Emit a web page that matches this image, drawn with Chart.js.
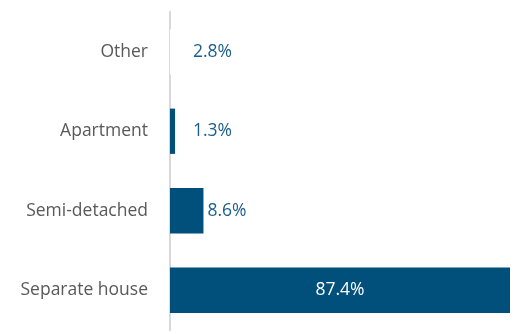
<!DOCTYPE html>
<html>
<head>
<meta charset="utf-8">
<script src="https://cdn.jsdelivr.net/npm/chart.js@4"></script>
<style>
  html, body { margin: 0; padding: 0; background: #fff; overflow: hidden; }
</style>
</head>
<body>
<canvas id="barChart" width="518" height="334"></canvas>
<script>
var categories = ['Other', 'Apartment', 'Semi-detached', 'Separate house'];
var shares = [2.8, 1.3, 8.6, 87.4];
var barColors = ['#ffffff', '#00507b', '#00507b', '#00507b'];

// value labels: outside for small bars, inside (white) for the big one
var valueLabels = {
    id: 'valueLabels',
    afterDatasetsDraw(chart) {
        const ctx = chart.ctx;
        const meta = chart.getDatasetMeta(0);
        ctx.save();
        ctx.font = '17.5px "Open Sans"';
        ctx.textBaseline = 'middle';
        meta.data.forEach((bar, i) => {
            const text = shares[i].toFixed(1) + '%';
            if (shares[i] > 50) {
                ctx.fillStyle = '#ffffff';
                ctx.textAlign = 'center';
                ctx.fillText(text, (bar.base + bar.x) / 2, bar.y);
            } else {
                ctx.fillStyle = '#1b5e8c';
                ctx.textAlign = 'left';
                ctx.fillText(text, Math.max(bar.x + 4, bar.base + 23), bar.y);
            }
        });
        ctx.restore();
    }
};

var ctx = document.getElementById('barChart').getContext('2d');

var shareChart = new Chart(ctx, {
    type: 'bar',
    data: {
        labels: categories,
        datasets: [{
            data: shares,
            backgroundColor: barColors,
            borderWidth: 0,
            barPercentage: 0.57,
            categoryPercentage: 1
        }]
    },
    options: {
        indexAxis: 'y',
        responsive: false,
        animation: false,
        layout: { padding: { top: 12, bottom: 4, right: 8, left: 0 } },
        plugins: {
            legend: { display: false },
            tooltip: { enabled: false }
        },
        scales: {
            x: {
                display: false,
                min: 0,
                max: 87.4
            },
            y: {
                grid: { display: false },
                border: { display: true, color: '#d9d9d9', width: 2 },
                ticks: {
                    color: '#595959',
                    padding: 14,
                    font: { family: 'Open Sans', size: 17.5 }
                },
                afterFit(scale) {
                    scale.width = 170;
                    scale.paddingTop = 0;
                    scale.paddingBottom = 0;
                }
            }
        }
    },
    plugins: [valueLabels]
});
</script>
</body>
</html>
